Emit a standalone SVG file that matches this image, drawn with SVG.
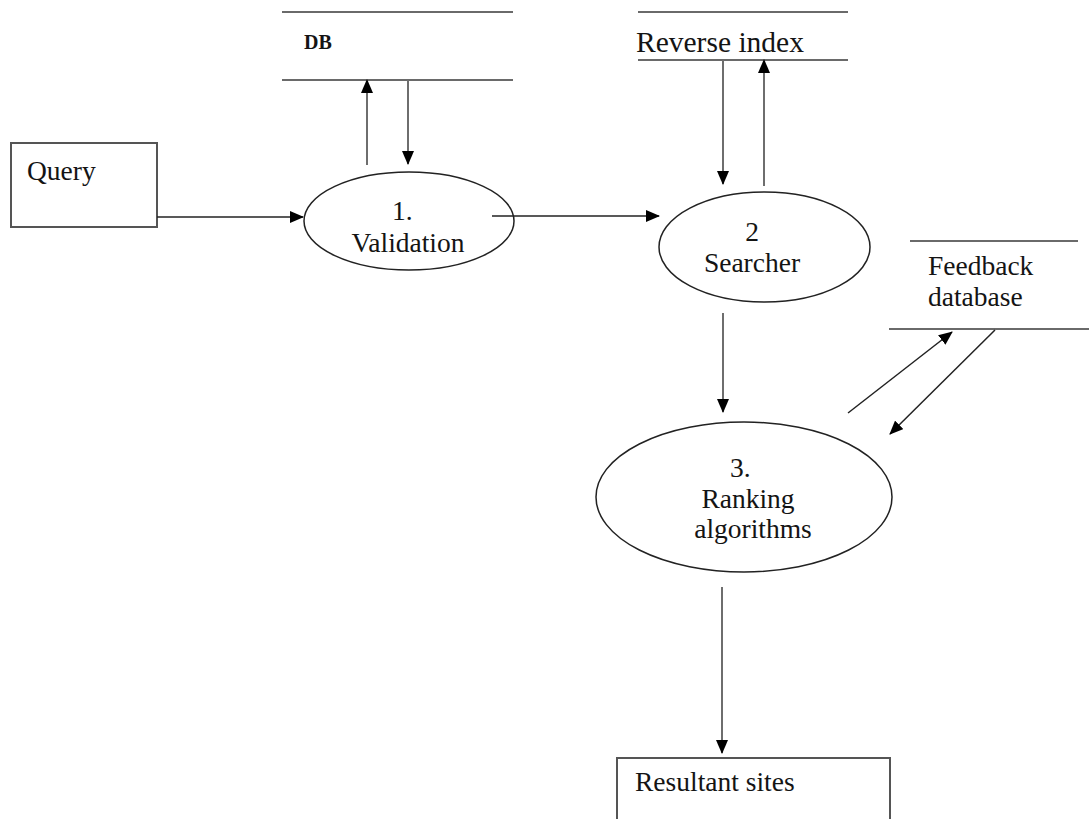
<svg xmlns="http://www.w3.org/2000/svg" width="1089" height="819" viewBox="0 0 1089 819">
<style>
text{font-family:"Liberation Serif","Times New Roman",serif;font-size:27.5px;fill:#141414}
.store{stroke:#6a6a6a;stroke-width:2.2;fill:none}
.box{stroke:#555;stroke-width:2;fill:#fff}
.proc{stroke:#222;stroke-width:1.5;fill:#fff}
.flow{stroke:#6e6e6e;stroke-width:2;fill:none}
.flowd{stroke:#222;stroke-width:1.5;fill:none}
</style>
<defs>
<marker id="ah" markerUnits="userSpaceOnUse" markerWidth="14" markerHeight="12" viewBox="0 0 14 12" refX="13" refY="6" orient="auto">
<path d="M0,0 L14,6 L0,12 Z" fill="#000"/>
</marker>
</defs>
<rect width="1089" height="819" fill="#fff"/>

<g id="query">
<rect class="box" x="11" y="143" width="146" height="84"/>
<text x="27" y="180">Query</text>
</g>

<g id="db">
<line class="store" x1="282" y1="12" x2="513" y2="12"/>
<line class="store" x1="282" y1="80" x2="513" y2="80"/>
<text x="304" y="49" style="font-weight:bold;font-size:20px">DB</text>
</g>

<g id="reverse-index">
<line class="store" x1="638" y1="12" x2="848" y2="12"/>
<line class="store" x1="638" y1="60" x2="848" y2="60"/>
<text x="636" y="52" style="font-size:29.5px">Reverse index</text>
</g>

<g id="feedback-db">
<line class="store" x1="910" y1="241" x2="1078" y2="241"/>
<line class="store" x1="889" y1="329" x2="1089" y2="329"/>
<text x="928" y="275">Feedback</text>
<text x="928" y="306">database</text>
</g>

<g id="validation">
<ellipse class="proc" cx="409" cy="221" rx="105" ry="49"/>
<text x="392" y="220">1.</text>
<text x="408" y="252" text-anchor="middle">Validation</text>
</g>

<g id="searcher">
<ellipse class="proc" cx="764.5" cy="247" rx="105.5" ry="55"/>
<text x="752" y="241" text-anchor="middle">2</text>
<text x="752" y="272" text-anchor="middle">Searcher</text>
</g>

<g id="ranking">
<ellipse class="proc" cx="744" cy="497" rx="148" ry="75"/>
<text x="730" y="477">3.</text>
<text x="748" y="508" text-anchor="middle">Ranking</text>
<text x="753" y="538" text-anchor="middle">algorithms</text>
</g>

<g id="resultant">
<rect class="box" x="617" y="758" width="273" height="80"/>
<text x="635" y="791">Resultant sites</text>
</g>

<g id="connectors">
<line class="flowd" x1="157" y1="217" x2="303" y2="217" marker-end="url(#ah)"/>
<line class="flowd" x1="492" y1="216" x2="659" y2="216" marker-end="url(#ah)"/>
<line class="flow" x1="367" y1="165" x2="367" y2="80" marker-end="url(#ah)"/>
<line class="flow" x1="408" y1="80" x2="408" y2="164" marker-end="url(#ah)"/>
<line class="flow" x1="723" y1="60" x2="723" y2="184" marker-end="url(#ah)"/>
<line class="flow" x1="764" y1="186" x2="764" y2="60" marker-end="url(#ah)"/>
<line class="flow" x1="723" y1="313" x2="723" y2="412" marker-end="url(#ah)"/>
<line class="flowd" x1="848" y1="413" x2="952" y2="332" marker-end="url(#ah)"/>
<line class="flowd" x1="995" y1="330" x2="890" y2="434" marker-end="url(#ah)"/>
<line class="flow" x1="722" y1="587" x2="722" y2="753" marker-end="url(#ah)"/>
</g>
</svg>
